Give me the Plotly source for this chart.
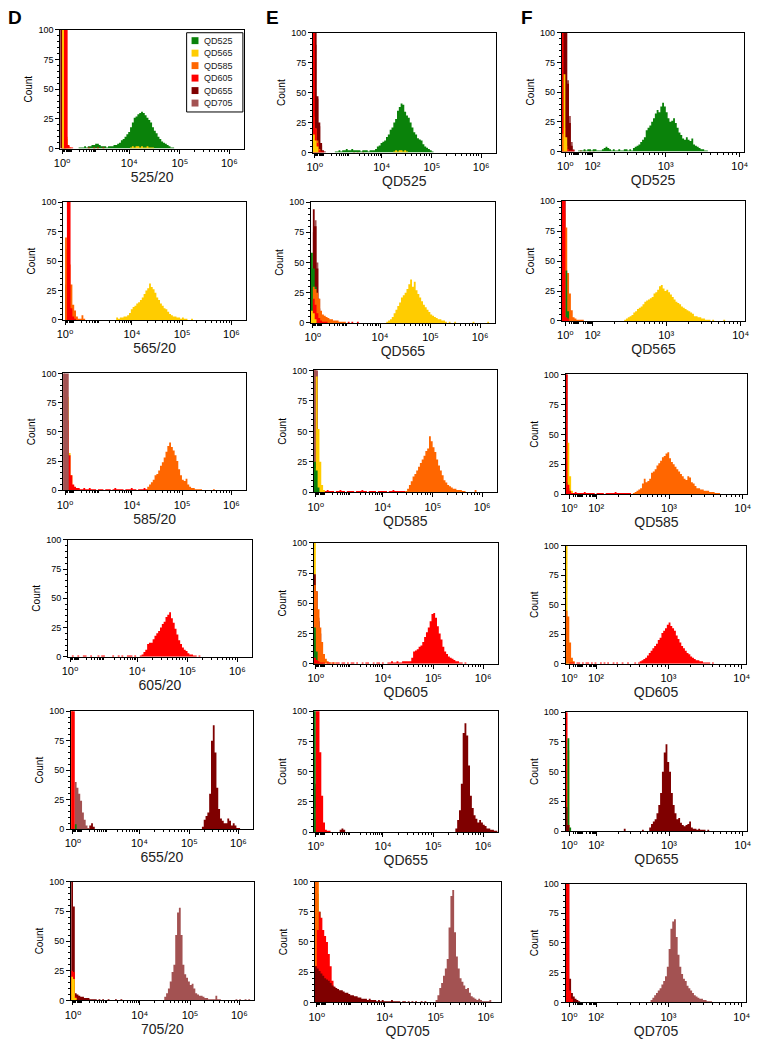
import math
import plotly.graph_objects as go

W, H = 774, 1050
BIN = 10          # histogram bin width in display channels
NBINS = 100       # channels 0..1000

SERIES = ["QD525", "QD565", "QD585", "QD605", "QD655", "QD705"]
COLORS = {"QD525": "#0A820A", "QD565": "#FFCC00", "QD585": "#FF6600",
          "QD605": "#FF0000", "QD655": "#7F0000", "QD705": "#A35252"}

# x-axis tick positions (display channel) and labels
TICKVALS_DE = [10, 376, 651, 921]
TICKTEXT_DE = ["10⁰", "10⁴", "10⁵", "10⁶"]
DECADE_CH_DE = [10, 25, 60, 200, 376, 651, 921]      # channel of 10^0 .. 10^6
TICKVALS_F = [20, 168, 569, 975]
TICKTEXT_F = ["10⁰", "10²", "10³", "10⁴"]
DECADE_CH_F = [20, 94, 168, 569, 975]                 # channel of 10^0 .. 10^4

Y_TICKS = [0, 25, 50, 75, 100]
XTITLE_D = ["525/20", "565/20", "585/20", "605/20", "655/20", "705/20"]
XTITLE_EF = ["QD525", "QD565", "QD585", "QD605", "QD655", "QD705"]

# ---- histogram data: series -> list of (start channel, counts per bin); drawing order = key order
D1 = {
    "QD705": [(0, [300, 300, 40, 5])],
    "QD655": [(0, [300, 300, 5])],
    "QD585": [(10, [200, 150, 8, 2, 1])],
    "QD525": [(100, [1, 1, 1, 2, 1, 2, 2, 3, 3, 4, 4, 3, 2, 2, 2, 1, 2, 2, 2, 3, 3, 4,
                     5, 7, 8, 10, 12, 14, 18, 22, 26, 27, 29, 30, 31, 30, 28, 26, 24, 22, 18, 15,
                     13, 10, 8, 6, 5, 4, 3, 2, 1, 1])],
    "QD565": [(10, [200, 150, 10, 2]), (380, [1, 2, 1, 2, 2, 1, 2, 1, 1, 2, 1, 1, 1])],
    "QD605": [(20, [300, 250, 3, 1, 1]), (150, [1, 0, 0, 1, 0, 1, 0, 0, 1])],
}
D2 = {
    "QD705": [(10, [25, 20, 5])],
    "QD655": [(10, [30, 15, 3])],
    "QD525": [(20, [20, 10, 3])],
    "QD585": [(10, [70, 60, 47, 30, 13, 8, 3, 1, 1, 4, 1])],
    "QD605": [(20, [400, 120, 10, 3, 1])],
    "QD565": [(290, [2, 1, 2, 2, 3, 3, 4, 6, 9, 11, 12, 14, 15, 17, 19, 22, 25, 27, 31, 28, 26,
                     23, 19, 17, 14, 12, 10, 9, 7, 5, 4, 3, 3, 2, 2, 1, 2, 1, 1, 0, 0, 1])],
}
D3 = {
    "QD655": [(0, [100, 50, 10])],
    "QD565": [(10, [86, 80, 32, 13, 4, 2, 1])],
    "QD605": [(10, [69, 60, 30, 13, 5, 3, 2, 2, 1, 1, 2, 1, 1, 2, 1, 1, 1, 0, 1, 1, 1, 0, 1, 1,
                    1, 0, 1, 2, 1, 1, 1, 1, 0, 1, 1, 1, 2, 1, 1, 0, 1, 1, 1, 2, 1, 1, 1, 1, 1, 1,
                    1, 1, 1, 1, 1, 1, 1, 0, 1, 1, 0, 1, 1, 0, 0, 1])],
    "QD705": [(0, [300, 300, 300])],
    "QD585": [(460, [3, 5, 7, 9, 13, 14, 17, 21, 24, 28, 33, 38, 41, 37, 34, 30, 25, 18, 13, 9,
                     8, 10, 5, 3, 2, 2, 1, 1, 1, 1, 0, 0, 0, 0, 0, 0, 1])],
}
D4 = {
    "QD605": [(20, [1, 0, 0, 1, 0, 0, 1, 1, 0, 0, 1, 0, 0, 0, 1, 0, 1, 1, 0, 0, 0, 0, 1, 0, 0, 1,
                    0, 1, 0, 0, 1, 1, 1, 0, 1, 0, 0, 1]),
              (400, [2, 4, 6, 11, 12, 12, 15, 18, 20, 22, 25, 28, 30, 34, 36, 38, 33, 29, 24, 19,
                     14, 11, 8, 6, 5, 3, 2, 2, 1, 1, 0, 1])],
}
D5 = {
    "QD585": [(0, [300])],
    "QD705": [(20, [40, 35, 30, 24, 14, 8, 3, 1])],
    "QD525": [(20, [4])],
    "QD605": [(0, [400, 400])],
    "QD655": [(100, [3, 5, 2]),
              (720, [2, 8, 11, 14, 30, 75, 88, 65, 35, 17, 9, 7, 5, 5, 9, 7, 3, 5, 3, 1, 1])],
}
D6 = {
    "QD655": [(0, [300, 79, 6, 5, 4, 3, 3, 2, 2, 2, 1, 1, 1, 1, 0, 1, 0, 1, 0, 0, 1, 0, 0, 0, 1,
                   0, 0, 1])],
    "QD585": [(0, [15, 10])],
    "QD605": [(0, [25, 24, 3])],
    "QD565": [(0, [20, 18, 2])],
    "QD705": [(510, [3, 6, 10, 16, 24, 30, 55, 74, 78, 55, 30, 22, 19, 16, 13, 14, 10, 6, 5, 4, 4,
                     3, 2, 2, 1, 1, 1, 1, 4, 1, 1]),
              (900, [1, 0, 1, 0, 0, 1, 0, 1])],
}
E1 = {
    "QD705": [(0, [200, 90, 45, 22, 6, 1])],
    "QD655": [(0, [150, 300, 47, 25, 8, 2, 1])],
    "QD585": [(0, [30, 20, 10, 3])],
    "QD605": [(0, [300, 20, 8, 2, 1, 1]), (220, [1, 0, 1, 0, 0, 1])],
    "QD525": [(120, [1, 1, 2, 1, 2, 2, 3, 2, 2, 3, 2, 2, 2, 2, 1, 2, 2, 2, 1, 2, 2, 2,
                     3, 5, 6, 8, 9, 10, 13, 15, 19, 21, 25, 28, 35, 38, 41, 40, 34, 31, 29, 25,
                     21, 17, 15, 12, 11, 10, 7, 5, 4, 3, 2, 1])],
    "QD565": [(0, [15, 10, 5]), (440, [1, 2, 1, 2, 2, 1, 2, 1])],
}
E2 = {
    "QD705": [(0, [40, 75, 85, 50, 20, 5, 2])],
    "QD655": [(10, [94, 80, 45, 12, 2])],
    "QD525": [(0, [58, 45, 30, 20, 8, 2])],
    "QD585": [(10, [30, 28, 25, 20, 10, 7, 6, 5, 4, 3, 3, 2, 2, 2, 1, 1, 1, 1])],
    "QD605": [(10, [20, 15, 8, 4, 2, 1, 1, 1]), (200, [1, 0, 1, 0, 0, 1])],
    "QD565": [(0, [10, 8, 3]),
              (410, [1, 2, 3, 5, 8, 11, 14, 17, 21, 23, 25, 28, 32, 36, 30, 34, 27, 24, 21, 18,
                     15, 13, 11, 9, 7, 6, 5, 4, 3, 3, 2, 2, 1, 0, 1, 0, 0, 1]),
              (880, [1, 0, 0, 0, 0, 0, 0, 0, 1])],
}
E3 = {
    "QD605": [(0, [100, 80, 10, 3, 2, 1, 1, 2, 1, 1, 1, 0, 1, 1, 2, 1, 1, 0, 1, 1, 1, 1, 0, 1, 1,
                   1, 2, 1, 1, 0, 1, 1, 1, 1, 0, 1, 1, 1, 1, 1, 0, 1, 1, 2, 1, 1, 1, 1, 1, 1])],
    "QD655": [(0, [300, 100, 5])],
    "QD705": [(0, [300, 120, 10])],
    "QD565": [(0, [20, 95, 52, 25, 6, 2])],
    "QD525": [(0, [25, 18, 4])],
    "QD585": [(500, [1, 3, 6, 9, 13, 15, 18, 21, 24, 27, 30, 34, 36, 46, 42, 37, 33, 27, 22, 18,
                     14, 10, 8, 6, 5, 4, 3, 3, 2, 2, 2, 1, 1, 0, 0, 0, 0, 0, 2])],
}
E4 = {
    "QD565": [(0, [300, 15, 5])],
    "QD705": [(0, [50, 40, 38, 25, 8, 2])],
    "QD655": [(0, [74, 60, 35, 10, 2])],
    "QD585": [(0, [65, 60, 45, 30, 18, 8, 4, 2, 1, 1, 1, 1])],
    "QD525": [(0, [30, 10])],
    "QD605": [(0, [5, 3, 2, 1, 1, 1, 0, 1, 1, 0, 1, 0, 1, 1, 0, 1, 1, 0, 1, 0, 1, 1, 0, 1, 0, 0,
                   1, 0, 1, 1, 0, 0, 1, 0, 1, 1, 0, 1, 0, 0, 1, 1, 2, 1, 1, 2, 1, 1, 2, 2, 2, 2]),
              (520, [2, 5, 10, 11, 12, 14, 15, 18, 22, 26, 30, 35, 41, 42, 38, 31, 25, 20, 14, 10,
                     8, 6, 5, 4, 3, 2, 2, 1, 1, 0, 1])],
}
E5 = {
    "QD655": [(0, [40, 30, 10]), (140, [2, 3, 2]),
              (770, [3, 10, 18, 40, 82, 90, 80, 55, 30, 20, 14, 11, 8, 10, 8, 6, 5, 3, 3, 2, 2,
                     1, 1])],
    "QD705": [(0, [20, 16, 10, 2])],
    "QD525": [(0, [300, 10])],
    "QD605": [(10, [300, 200, 66, 30, 8, 2, 1, 1])],
}
E6 = {
    "QD525": [(0, [100, 90, 75])],
    "QD565": [(0, [300, 120, 40, 20, 12, 8, 5, 3, 2])],
    "QD585": [(0, [300, 300, 60, 44, 30, 20, 10, 5, 3, 2, 1])],
    "QD605": [(0, [30, 60, 75, 70, 60, 55, 50, 40, 30, 18, 13, 10, 9, 7, 5, 4, 3, 3, 2, 2, 1])],
    "QD655": [(0, [30, 28, 26, 24, 22, 20, 19, 18, 16, 14, 13, 12, 11, 10, 10, 9, 8, 8, 7, 6, 6,
                   5, 5, 4, 4, 3, 3, 3, 2, 3, 2, 2, 2, 1, 2, 1, 2, 1, 1, 1, 1, 2, 1, 1, 1, 1, 0,
                   1, 1, 0, 1, 0, 1, 0, 1, 0, 0, 1, 0, 1])],
    "QD705": [(650, [2, 6, 12, 16, 22, 28, 36, 62, 88, 93, 58, 38, 28, 20, 17, 14, 11, 12, 8, 5,
                     4, 3, 2, 3, 2, 1, 1, 1, 1, 2])],
}
F1 = {
    "QD705": [(0, [200, 150, 100, 60, 30, 8, 2])],
    "QD655": [(0, [300, 300, 300, 57, 24, 5, 1])],
    "QD605": [(0, [300, 20, 5, 2, 1, 1, 1]), (100, [1, 0, 1, 0, 0, 1, 0, 1])],
    "QD585": [(0, [15, 12, 5])],
    "QD565": [(10, [65, 12])],
    "QD525": [(90, [1, 1, 1, 2, 1, 2, 2, 1, 2, 2, 1, 1, 1, 2, 3, 4, 3, 2, 1, 2, 1, 1, 2, 1, 1, 2,
                    2, 1, 2, 1,
                    3, 4, 5, 6, 8, 10, 12, 18, 20, 22, 25, 28, 32, 35, 33, 38, 41, 38, 33, 28, 25,
                    26, 28, 24, 20, 16, 14, 11, 10, 12, 10, 9, 11, 6, 5, 4, 3, 2, 2, 1, 1])],
}
F2 = {
    "QD705": [(0, [200, 100, 10])],
    "QD655": [(0, [300, 150, 8])],
    "QD585": [(0, [100, 90, 78, 40, 23, 9, 3, 2, 1, 1, 1, 1])],
    "QD525": [(20, [42, 8])],
    "QD605": [(0, [300, 300, 3, 2])],
    "QD565": [(340, [1, 2, 3, 4, 5, 7, 8, 10, 11, 12, 14, 16, 17, 18, 19, 20, 23, 24, 26, 29, 30,
                     27, 25, 26, 24, 22, 20, 18, 16, 15, 14, 12, 11, 10, 9, 8, 7, 6, 4, 4, 3, 3,
                     2, 2, 1, 1, 1, 0, 1, 0, 0, 0, 0, 0, 1])],
}
F3 = {
    "QD655": [(0, [300, 10])],
    "QD565": [(0, [45, 43, 15, 3])],
    "QD525": [(0, [10, 5])],
    "QD605": [(0, [300, 8, 3, 1, 1, 2, 1, 1, 1, 1, 2, 1, 1, 1, 1, 1, 0, 1, 1, 1, 1, 0, 1, 1, 1,
                   1, 1, 2, 1, 1, 1, 1, 1, 1, 1, 1])],
    "QD585": [(370, [1, 2, 3, 4, 5, 9, 13, 10, 11, 13, 18, 19, 21, 24, 26, 28, 31, 32, 34, 35, 30,
                     27, 25, 23, 21, 19, 17, 15, 13, 12, 15, 14, 10, 9, 7, 5, 5, 4, 4, 3, 3, 3, 2,
                     2, 2, 1, 1, 1])],
}
F4 = {
    "QD565": [(0, [100, 20, 3])],
    "QD585": [(0, [45, 40, 18, 5, 2])],
    "QD605": [(20, [1, 1, 1, 0, 1, 1, 0, 1, 0, 1, 1, 0, 1, 0, 1, 0, 0, 1, 0, 1, 0, 1, 0, 0, 1, 0,
                    1, 0, 0, 1, 0, 0, 1, 0, 0, 0, 1, 0]),
              (400, [1, 2, 3, 4, 5, 7, 9, 11, 13, 15, 17, 20, 22, 26, 28, 30, 33, 35, 32, 30, 28,
                     24, 21, 18, 15, 13, 11, 9, 8, 6, 5, 4, 3, 3, 2, 2, 1, 1, 1, 1, 0, 1])],
}
F5 = {
    "QD585": [(10, [68])],
    "QD565": [(0, [60, 5])],
    "QD605": [(0, [300, 5])],
    "QD525": [(10, [78, 3])],
    "QD655": [(0, [20, 5]), (320, [2]), (420, [1]),
              (460, [3, 6, 8, 10, 15, 22, 32, 50, 66, 73, 58, 50, 32, 22, 15, 10, 11, 7, 5, 4, 5,
                     6, 8, 3, 2, 2, 1, 2, 1, 1, 1, 0, 1])],
}
F6 = {
    "QD655": [(0, [300, 200, 20, 8, 5, 3, 2, 1])],
    "QD605": [(0, [300, 100, 10, 3])],
    "QD705": [(470, [2, 4, 6, 8, 10, 12, 15, 18, 22, 30, 45, 62, 68, 70, 55, 40, 30, 24, 20, 18,
                     14, 12, 10, 8, 6, 5, 4, 3, 3, 2, 2, 1, 1, 1])],
}

# ---- layout: plot frames in pixels (left, right, top, bottom)
FRAMES = {
    "D1": (55, 241, 25, 145), "D2": (58, 243, 199, 318), "D3": (58, 243, 372, 490),
    "D4": (63, 249, 540, 658), "D5": (66, 250, 713, 832), "D6": (66, 251, 885, 1005),
    "E1": (311, 496, 28, 149), "E2": (309, 495, 199, 321), "E3": (312, 497, 369, 492),
    "E4": (312, 498, 543, 665), "E5": (312, 498, 713, 835), "E6": (313, 501, 885, 1007),
    "F1": (563, 748, 28, 148), "F2": (563, 749, 198, 319), "F3": (567, 751, 373, 494),
    "F4": (567, 750, 546, 665), "F5": (567, 751, 714, 834), "F6": (567, 750, 887, 1007),
}
PANELS = {"D1": D1, "D2": D2, "D3": D3, "D4": D4, "D5": D5, "D6": D6,
          "E1": E1, "E2": E2, "E3": E3, "E4": E4, "E5": E5, "E6": E6,
          "F1": F1, "F2": F2, "F3": F3, "F4": F4, "F5": F5, "F6": F6}

FONT = "Liberation Sans, Arial, DejaVu Sans, sans-serif"


def minor_ticks(decade_ch):
    vals = []
    for k in range(len(decade_ch) - 1):
        for m in range(2, 10):
            vals.append(decade_ch[k] + math.log10(m) * (decade_ch[k + 1] - decade_ch[k]))
    return vals


def step_xy(segments):
    grid = [0] * NBINS
    for start, counts in segments:
        i0 = start // BIN
        for i, c in enumerate(counts):
            if 0 <= i0 + i < NBINS:
                grid[i0 + i] += c
    nz = [i for i, c in enumerate(grid) if c > 0]
    a, b = nz[0], nz[-1]
    xs, ys = [a * BIN], [0]
    for i in range(a, b + 1):
        xs.append(i * BIN)
        ys.append(grid[i])
    xs.append((b + 1) * BIN)
    ys.append(0)
    return xs, ys


fig = go.Figure()
layout = {}
for n, (key, data) in enumerate(PANELS.items(), start=1):
    L, R, T, B = FRAMES[key]
    col, row = key[0], int(key[1]) - 1
    xa, ya = f"x{n}", f"y{n}"
    for s, segs in data.items():
        xs, ys = step_xy(segs)
        fig.add_trace(go.Scatter(x=xs, y=ys, mode="lines", line=dict(width=0, shape="hv"),
                                 fill="tozeroy", fillcolor=COLORS[s], name=s,
                                 xaxis=xa, yaxis=ya, hoverinfo="skip", showlegend=False))
    if col == "F":
        tv, tt, dch = TICKVALS_F, TICKTEXT_F, DECADE_CH_F
    else:
        tv, tt, dch = TICKVALS_DE, TICKTEXT_DE, DECADE_CH_DE
    xtitle = XTITLE_D[row] if col == "D" else XTITLE_EF[row]
    layout[f"xaxis{n}"] = dict(
        domain=[L / W, R / W], anchor=ya, range=[0, 1000], tickmode="array",
        tickvals=tv, ticktext=tt, ticks="outside", ticklen=4, tickwidth=1, tickcolor="black",
        minor=dict(tickmode="array", tickvals=minor_ticks(dch), ticks="outside", ticklen=2,
                   tickwidth=1, tickcolor="black", showgrid=False),
        showline=True, mirror=True, linecolor="black", linewidth=1, showgrid=False,
        zeroline=False, tickfont=dict(family=FONT, size=11, color="black"),
        title=dict(text=xtitle, font=dict(family=FONT, size=14, color="#222"), standoff=1),
        fixedrange=True)
    layout[f"yaxis{n}"] = dict(
        domain=[1 - B / H, 1 - T / H], anchor=xa, range=[0, 100], tickmode="array",
        tickvals=Y_TICKS, ticks="outside", ticklen=4, tickwidth=1, tickcolor="black",
        minor=dict(dtick=5, ticks="outside", ticklen=2, tickwidth=1, tickcolor="black",
                   showgrid=False),
        showline=True, mirror=True, linecolor="black", linewidth=1, showgrid=False,
        zeroline=False, tickfont=dict(family=FONT, size=9, color="black"),
        title=dict(text="Count", font=dict(family=FONT, size=10, color="black"), standoff=3),
        fixedrange=True)

# panel letters
annotations = []
for letter, px in (("D", 0), ("E", 261), ("F", 520)):
    annotations.append(dict(text=f"<b>{letter}</b>", x=px / W, y=1.0, xref="paper", yref="paper",
                            xanchor="left", yanchor="top", showarrow=False,
                            font=dict(family=FONT, size=19, color="black")))

# legend box in panel D1
shapes = [dict(type="rect", xref="paper", yref="paper", x0=183 / W, x1=240 / W,
               y0=1 - 108 / H, y1=1 - 28 / H, line=dict(color="black", width=1),
               fillcolor="white", layer="above")]
for i, s in enumerate(SERIES):
    yc = 36 + i * 12.6
    shapes.append(dict(type="rect", xref="paper", yref="paper", x0=188 / W, x1=195 / W,
                       y0=1 - (yc + 3.5) / H, y1=1 - (yc - 3.5) / H, line=dict(width=0),
                       fillcolor=COLORS[s], layer="above"))
    annotations.append(dict(text=s, x=199 / W, y=1 - yc / H, xref="paper", yref="paper",
                            xanchor="left", yanchor="middle", showarrow=False,
                            font=dict(family=FONT, size=9, color="#222")))

fig.update_layout(width=W, height=H, margin=dict(l=0, r=0, t=0, b=0),
                  paper_bgcolor="white", plot_bgcolor="white", showlegend=False,
                  shapes=shapes, annotations=annotations, **layout)
fig.write_html("out.html", config={"displayModeBar": False},
               post_script="document.body.style.margin='0';document.body.style.padding='0';"
                           "document.documentElement.style.overflow='hidden';")
